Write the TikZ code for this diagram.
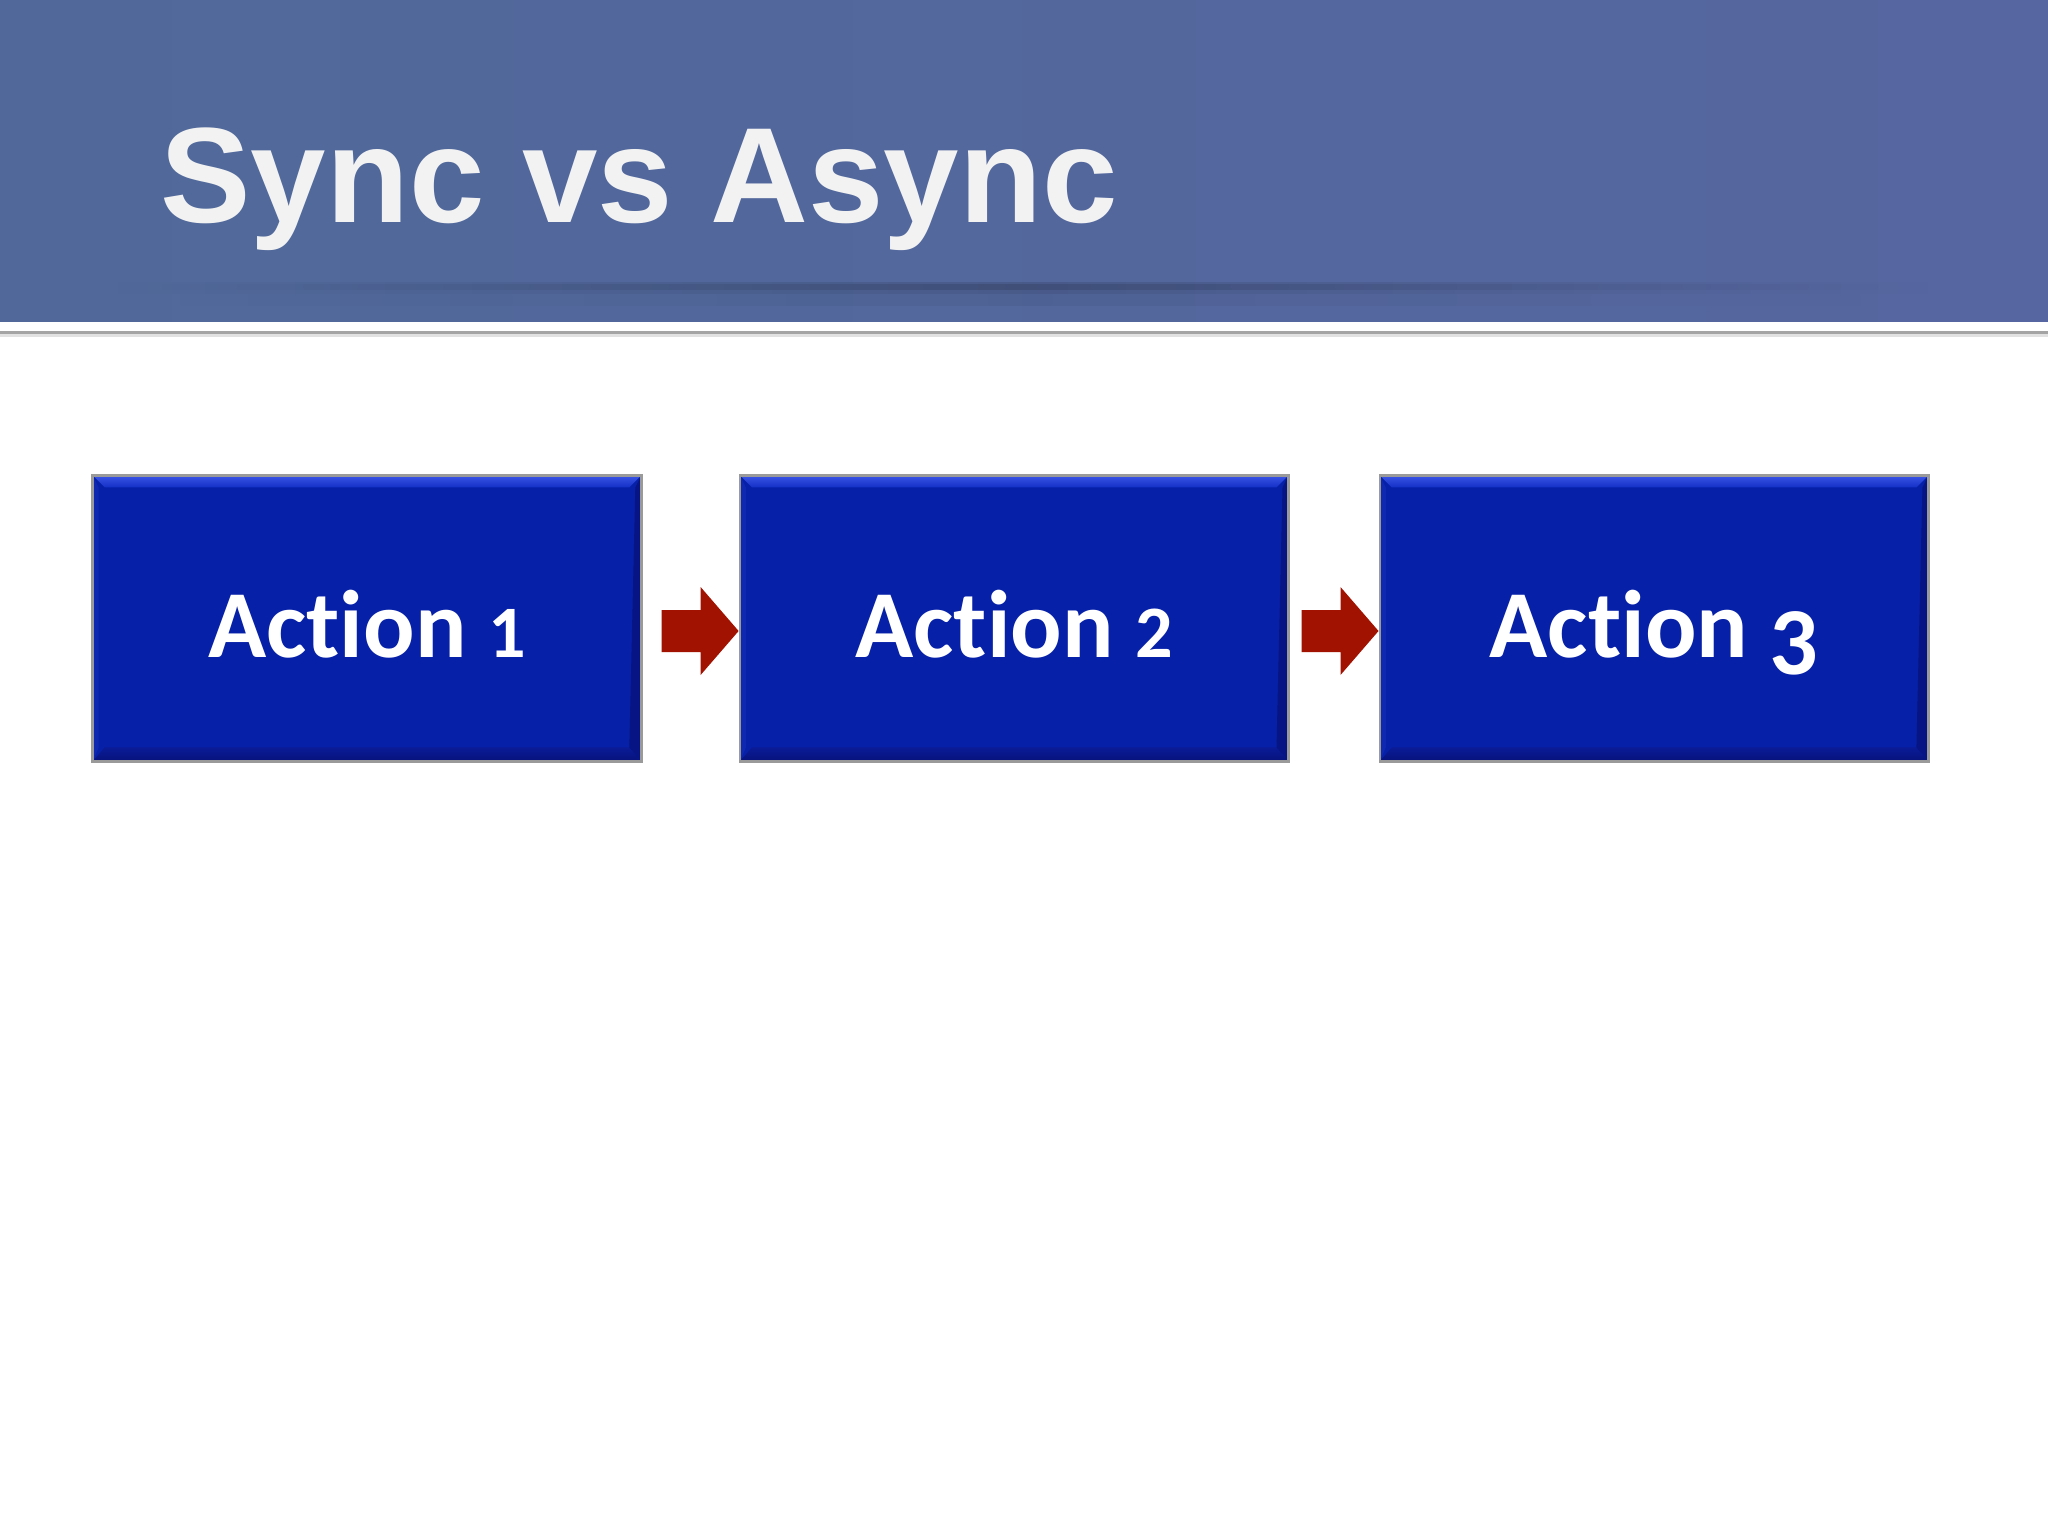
\documentclass[tikz,border=0pt]{standalone}
\usepackage{fontspec}
\setmainfont{Liberation Sans}
\newfontfamily\boxfont[Ligatures=NoCommon]{Carlito}
\usetikzlibrary{calc,shadows,fadings}
\definecolor{barL}{HTML}{50699A}
\definecolor{barR}{HTML}{5666A0}
\definecolor{titletext}{HTML}{F2F2F2}
\definecolor{boxblue}{HTML}{0620A8}
\definecolor{bevlight}{HTML}{3A55E6}
\definecolor{bevmid}{HTML}{1431C6}
\definecolor{bevdark}{HTML}{06127A}
\definecolor{bevbot}{HTML}{0A1B96}
\definecolor{arrowred}{HTML}{A11200}
\definecolor{rimgray}{HTML}{9A9A9A}
\tikzfading[name=fadeh, left color=transparent!100, right color=transparent!100, middle color=transparent!0]
\newcommand{\smalldig}[1]{{\fontsize{37pt}{40pt}\selectfont #1}}
\newcommand{\lowdig}[1]{\raisebox{-8.5pt}{#1}}
\tikzset{
  actbox/.style={rectangle, fill=boxblue, draw=rimgray, line width=1.3pt,
    minimum width=274.3pt, minimum height=143pt, inner sep=0pt,
    drop shadow={opacity=0.25, shadow xshift=0.8pt, shadow yshift=-0.8pt},
    path picture={
      \coordinate (pnw) at (path picture bounding box.north west);
      \coordinate (pne) at (path picture bounding box.north east);
      \coordinate (psw) at (path picture bounding box.south west);
      \coordinate (pse) at (path picture bounding box.south east);
      \shade[top color=bevlight, bottom color=bevmid]
        (pnw) -- (pne) -- ($(pne)+(-6pt,-6pt)$) -- ($(pnw)+(6pt,-6pt)$) -- cycle;
      \shade[top color=bevbot, bottom color=bevdark]
        (psw) -- (pse) -- ($(pse)+(-6pt,7pt)$) -- ($(psw)+(6pt,7pt)$) -- cycle;
      \fill[bevdark!80!boxblue]
        (pne) -- (pse) -- ($(pse)+(-6pt,7pt)$) -- ($(pne)+(-3pt,-6pt)$) -- cycle;
      \fill[boxblue!85!bevlight]
        (pnw) -- (psw) -- ($(psw)+(3pt,7pt)$) -- ($(pnw)+(3pt,-6pt)$) -- cycle;
    }},
  acttext/.style={text=white, font=\boxfont\bfseries\fontsize{48pt}{56pt}\selectfont, anchor=base, inner sep=0pt},
  blockarrow/.style={fill=arrowred},
  titletextstyle/.style={text=titletext, font=\bfseries\fontsize{67.8pt}{80pt}\selectfont, anchor=base west, inner sep=0pt}
}
\begin{document}
\begin{tikzpicture}[x=0.5pt,y=-0.5pt]
\useasboundingbox (0,0) rectangle (2048,1536);
\fill[white] (0,0) rectangle (2048,1536);
% title bar
\shade[left color=barL, right color=barR] (0,0) rectangle (2048,321);
\fill[black, opacity=0.12, path fading=fadeh] (105,282) rectangle (1940,294);
\fill[black, opacity=0.12, path fading=fadeh] (150,284) rectangle (1890,290);
\fill[black, opacity=0.05, path fading=fadeh] (150,294) rectangle (1890,306);
\fill[rimgray!90] (0,331) rectangle (2048,334);
\fill[rimgray!30] (0,334) rectangle (2048,337);
\node[titletextstyle] (title) at (160,222) {Sync vs Async};
% boxes
\node[actbox] (b1) at (367,618.4) {};
\node[actbox] (b2) at (1014.2,618.4) {};
\node[actbox] (b3) at (1654.1,618.4) {};
\node[acttext] (t1) at ($(b1.center)+(0,38.6)$) {Action \smalldig{1}};
\node[acttext] (t2) at ($(b2.center)+(0,38.6)$) {Action \smalldig{2}};
\node[acttext] (t3) at ($(b3.center)+(0,38.6)$) {Action \lowdig{3}};
% block arrows
\coordinate (tip1) at ($(b2.west)+(0,12.6)$);
\coordinate (tip2) at ($(b3.west)+(0,12.6)$);
\fill[blockarrow] (tip1) -- ++(-38,-44) -- ++(0,23) -- ++(-39,0) -- ++(0,42) -- ++(39,0) -- ++(0,23) -- cycle;
\fill[blockarrow] (tip2) -- ++(-38,-44) -- ++(0,23) -- ++(-39,0) -- ++(0,42) -- ++(39,0) -- ++(0,23) -- cycle;
\end{tikzpicture}
\end{document}
